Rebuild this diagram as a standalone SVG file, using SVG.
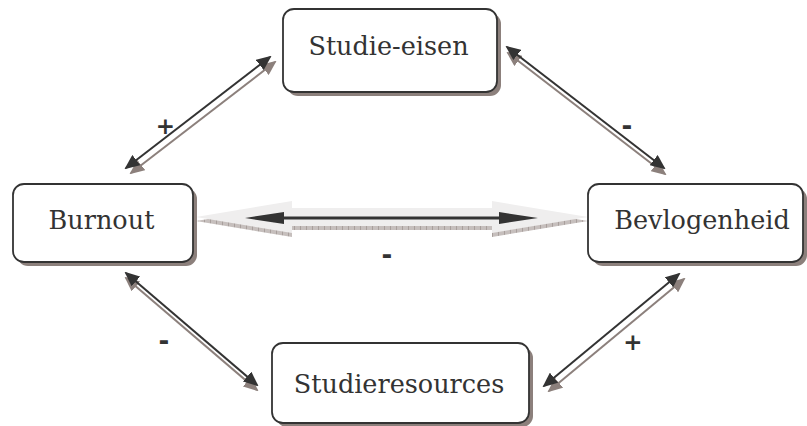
<svg xmlns="http://www.w3.org/2000/svg" width="807" height="426" viewBox="0 0 807 426">
  <style>
    .shadow { fill: #8c807c; }
    .box { fill: #ffffff; stroke: #333333; stroke-width: 1.8; }
    .label { font-family: "DejaVu Serif", "Liberation Serif", serif; font-size: 25.5px; fill: #333333; text-anchor: middle; }
    .sign { font-family: "DejaVu Sans", "Liberation Sans", sans-serif; font-weight: bold; fill: #333333; text-anchor: middle; }
    .dark { stroke: #333333; stroke-width: 2; fill: none; marker-start: url(#hd); marker-end: url(#hd); }
    .grey { stroke: #8c807c; stroke-width: 2; fill: none; marker-start: url(#hs); marker-end: url(#hs); }
  </style>
  <defs>
    <marker id="hd" viewBox="0 0 15 13" refX="13" refY="6.5" markerWidth="15" markerHeight="13" markerUnits="userSpaceOnUse" orient="auto-start-reverse">
      <path d="M0,0 L15,6.5 L0,13 z" fill="#333333"/>
    </marker>
    <marker id="hs" viewBox="0 0 15 13" refX="13" refY="6.5" markerWidth="15" markerHeight="13" markerUnits="userSpaceOnUse" orient="auto-start-reverse">
      <path d="M0,0 L15,6.5 L0,13 z" fill="#8c807c"/>
    </marker>
    <pattern id="hatch" width="6" height="4" patternUnits="userSpaceOnUse">
      <rect width="6" height="4" fill="#c6bfbd"/>
      <rect x="0" width="1" height="4" fill="#a89f9c"/>
    </pattern>
  </defs>

  <!-- connectors -->
  <g id="connectors">
    <!-- Burnout <-> Studie-eisen -->
    <g id="c-burnout-eisen">
      <line class="grey" x1="131" y1="173" x2="275" y2="62"/>
      <line class="dark" x1="126" y1="168" x2="270" y2="57"/>
    </g>
    <!-- Studie-eisen <-> Bevlogenheid -->
    <g id="c-eisen-bevlogenheid">
      <line class="grey" x1="508" y1="53" x2="665" y2="174"/>
      <line class="dark" x1="507" y1="47" x2="664" y2="168"/>
    </g>
    <!-- Burnout <-> Bevlogenheid : broad 3D arrow with inner arrow -->
    <g id="c-burnout-bevlogenheid">
      <polygon fill="url(#hatch)" transform="translate(0,4)" points="196,217 292,201 292,208 492,208 492,201 588,217 492,233 492,226 292,226 292,233"/>
      <polygon fill="#efeeee" points="196,217 292,201 292,208 492,208 492,201 588,217 492,233 492,226 292,226 292,233"/>
      <path fill="#333333" d="M245,218 L284,212 L284,216.5 L499,216.5 L499,212 L538,218 L499,224 L499,219.5 L284,219.5 L284,224 z"/>
    </g>
    <!-- Burnout <-> Studieresources -->
    <g id="c-burnout-resources">
      <line class="grey" x1="126" y1="278" x2="257" y2="390"/>
      <line class="dark" x1="126" y1="273" x2="257" y2="385"/>
    </g>
    <!-- Studieresources <-> Bevlogenheid -->
    <g id="c-resources-bevlogenheid">
      <line class="grey" x1="549" y1="391" x2="684" y2="279"/>
      <line class="dark" x1="544" y1="386" x2="679" y2="274"/>
    </g>
    <!-- relation signs -->
    <text class="sign" x="165.5" y="134" font-size="23">+</text>
    <text class="sign" x="627" y="135" font-size="26">-</text>
    <text class="sign" x="387" y="264" font-size="26">-</text>
    <text class="sign" x="164" y="350" font-size="26">-</text>
    <text class="sign" x="633" y="349.5" font-size="23">+</text>
  </g>

  <!-- nodes -->
  <g id="studie-eisen">
    <rect class="shadow" x="287" y="13" width="214" height="83" rx="11"/>
    <rect class="box" x="283" y="9" width="214" height="83" rx="11"/>
    <text class="label" x="388.5" y="55">Studie-eisen</text>
  </g>
  <g id="burnout">
    <rect class="shadow" x="17" y="188" width="180" height="78" rx="11"/>
    <rect class="box" x="13" y="184" width="180" height="78" rx="11"/>
    <text class="label" x="101.5" y="229">Burnout</text>
  </g>
  <g id="bevlogenheid">
    <rect class="shadow" x="592" y="188" width="215" height="78" rx="11"/>
    <rect class="box" x="588" y="184" width="215" height="78" rx="11"/>
    <text class="label" x="702" y="229">Bevlogenheid</text>
  </g>
  <g id="studieresources">
    <rect class="shadow" x="276" y="347" width="257" height="80" rx="11"/>
    <rect class="box" x="272" y="343" width="257" height="80" rx="11"/>
    <text class="label" x="399" y="393">Studieresources</text>
  </g>
</svg>
